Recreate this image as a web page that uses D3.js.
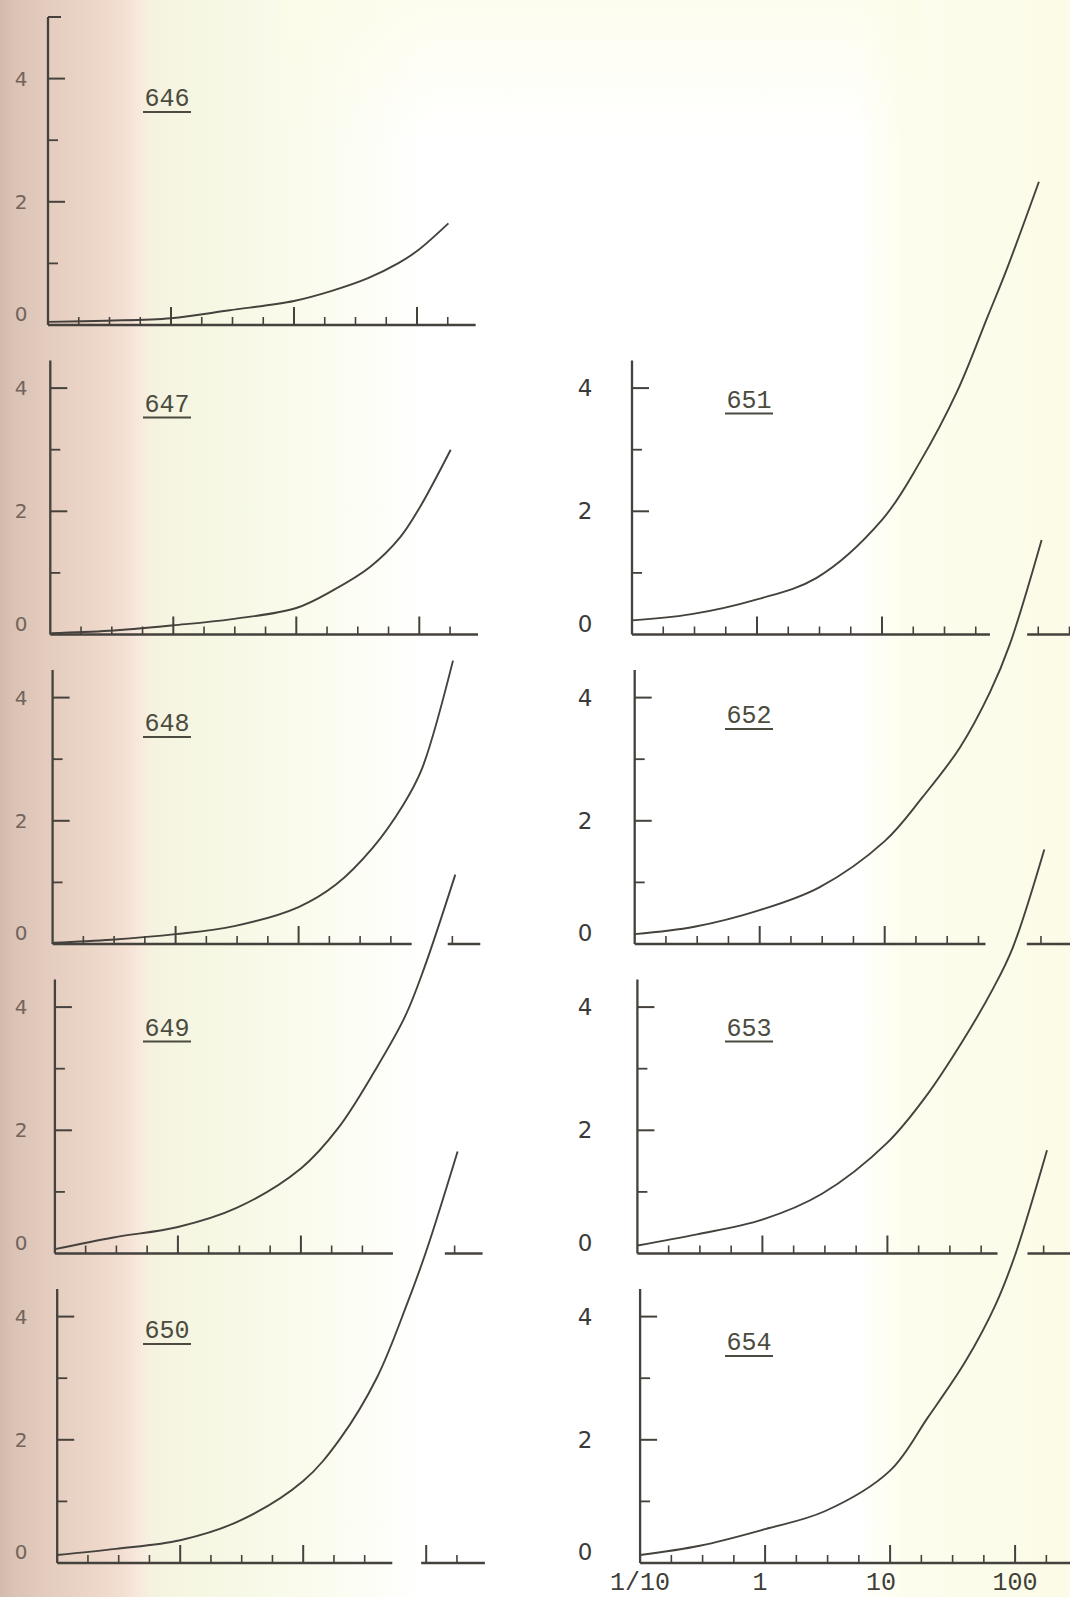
<!DOCTYPE html>
<html>
<head>
<meta charset="utf-8">
<script src="https://cdn.jsdelivr.net/npm/d3@7"></script>
<style>
  html, body { margin: 0; padding: 0; background: #ffffff; }
  svg { display: block; }
</style>
</head>
<body>
<script>
// Dose grid shared by every panel (log scale from 1/10 upwards)
const doses = [0.1, 0.3, 1, 3, 10, 20, 40, 70, 100, 180];

const panelIds = ["646", "647", "648", "649", "650", "651", "652", "653", "654"];

// Response read at each dose of the grid
const resp646 = [0.05, 0.07, 0.11, 0.24, 0.39, 0.55, 0.76, 1.00, 1.20, 1.65];
const resp647 = [0.02, 0.06, 0.15, 0.25, 0.43, 0.72, 1.10, 1.58, 2.05, 3.00];
const resp648 = [0.02, 0.07, 0.16, 0.29, 0.60, 0.96, 1.56, 2.24, 2.83, 4.60];
const resp649 = [0.07, 0.26, 0.43, 0.74, 1.38, 2.03, 2.97, 3.84, 4.62, 6.15];
const resp650 = [0.13, 0.23, 0.37, 0.68, 1.33, 2.02, 3.02, 4.21, 5.06, 6.68];
const resp651 = [0.23, 0.33, 0.57, 0.92, 1.86, 2.79, 3.95, 5.16, 5.94, 7.35];
const resp652 = [0.16, 0.28, 0.55, 0.92, 1.67, 2.38, 3.19, 4.10, 4.86, 6.56];
const resp653 = [0.13, 0.31, 0.55, 0.97, 1.80, 2.53, 3.45, 4.30, 4.95, 6.56];
const resp654 = [0.13, 0.28, 0.55, 0.84, 1.50, 2.36, 3.27, 4.20, 5.00, 6.70];
const responses = [resp646, resp647, resp648, resp649, resp650, resp651, resp652, resp653, resp654];

// Where each panel's dose axis is interrupted (dose units); null = unbroken
const axisBreaks = [null, null, [83, 163], [56, 148], [53, 91], [73, 145], [64, 137], [76, 132], null];

// Axis tick values
const yMajorTicks = [2, 4];
const yMinorTicks = [1, 3];
const yLabelValues = [0, 2, 4];
const xMajorTicks = [1, 10, 100];
const xLabelDoses = [0.1, 1, 10, 100];
const xLabelText = ["1/10", "1", "10", "100"];

// ---------------------------------------------------------------- layout
const W = 1070, H = 1597;
const ink = "#45413c";
const unitPx = 61.6;           // pixels per response unit
const rowStep = 309.5;          // vertical distance between panel baselines
const panelColumn = [0, 0, 0, 0, 0, 1, 1, 1, 1];
const panelRow    = [0, 1, 2, 3, 4, 1, 2, 3, 4];
const labelRise   = [219, 223, 213, 218, 225, 227, 221, 218, 213]; // panel-number height above the baseline
const xLabelShift = [0, -5, -9, 0];

const svg = d3.select("body").append("svg")
  .attr("width", W).attr("height", H)
  .attr("viewBox", `0 0 ${W} ${H}`);

// paper tint: warm band on the left, pale yellow on the right
const defs = svg.append("defs");
const paper = defs.append("linearGradient").attr("id", "paper")
  .attr("x1", "0").attr("x2", "1").attr("y1", "0").attr("y2", "0");
[
  [0.000, "#d2bbad"], [0.015, "#dbc4b6"], [0.050, "#e5cec0"], [0.090, "#edd7c9"],
  [0.115, "#f3dfd2"], [0.130, "#f8e9de"], [0.142, "#f5f3df"], [0.200, "#f6f8e4"],
  [0.280, "#fafbec"], [0.400, "#ffffff"], [0.800, "#ffffff"], [0.845, "#fdfdee"],
  [1.000, "#fbfbe7"]
].forEach(([o, c]) => paper.append("stop").attr("offset", o).attr("stop-color", c));
const topTint = defs.append("linearGradient").attr("id", "topTint")
  .attr("x1", "0").attr("x2", "0").attr("y1", "0").attr("y2", "1");
topTint.append("stop").attr("offset", 0).attr("stop-color", "#fcfce8").attr("stop-opacity", 0.7);
topTint.append("stop").attr("offset", 1).attr("stop-color", "#fcfce8").attr("stop-opacity", 0);

svg.append("rect").attr("width", W).attr("height", H).attr("fill", "url(#paper)");
svg.append("rect").attr("x", 280).attr("y", 0).attr("width", 640).attr("height", 140)
  .attr("fill", "url(#topTint)");

const root = svg.append("g");

panelIds.forEach((id, i) => {
  const col = panelColumn[i], row = panelRow[i];
  const baseY = 325 + row * rowStep;
  const ox = col === 0 ? 48 + row * 2.3 : 632 + (row - 1) * 2.7;
  const decade = col === 0 ? 123 : 125;
  const yTop = i === 0 ? 5.0 : 4.45;
  const doseEnd = col === 0 ? 300 : 420;

  const x = d3.scaleLog().domain([0.1, 100]).range([ox, ox + 3 * decade]);
  const y = d3.scaleLinear().domain([0, 1]).range([baseY, baseY - unitPx]);

  const g = root.append("g").attr("class", "panel p" + id);
  const brk = axisBreaks[i];
  const inBreak = d => brk && d > brk[0] && d < brk[1];

  // vertical axis
  g.append("line")
    .attr("x1", ox).attr("x2", ox)
    .attr("y1", y(0)).attr("y2", y(yTop))
    .attr("stroke", ink).attr("stroke-width", 2.3);
  if (i === 0) {
    g.append("line")
      .attr("x1", ox).attr("x2", ox + 13)
      .attr("y1", y(yTop)).attr("y2", y(yTop))
      .attr("stroke", ink).attr("stroke-width", 2);
  }
  yMajorTicks.forEach(v => g.append("line")
    .attr("x1", ox).attr("x2", ox + 17).attr("y1", y(v)).attr("y2", y(v))
    .attr("stroke", ink).attr("stroke-width", 2));
  yMinorTicks.forEach(v => g.append("line")
    .attr("x1", ox).attr("x2", ox + 10).attr("y1", y(v)).attr("y2", y(v))
    .attr("stroke", ink).attr("stroke-width", 1.8));

  // vertical axis numbers
  const labX = col === 0 ? 21 : 585;
  yLabelValues.forEach(v => g.append("text")
    .attr("x", labX)
    .attr("y", v === 0 ? y(v) - 11 : y(v))
    .attr("text-anchor", "middle")
    .attr("dominant-baseline", "central")
    .attr("font-family", "'DejaVu Sans', sans-serif")
    .attr("font-size", col === 0 ? 20 : 23)
    .attr("fill", col === 0 ? "#73635a" : "#3a3a38")
    .text(String(v)));

  // dose axis line, interrupted where noted
  const segs = brk ? [[0.1, brk[0]], [brk[1], doseEnd]] : [[0.1, doseEnd]];
  segs.forEach(([a, b]) => g.append("line")
    .attr("x1", x(a)).attr("x2", x(b))
    .attr("y1", y(0)).attr("y2", y(0))
    .attr("stroke", ink).attr("stroke-width", 2.3));

  // quarter-decade ticks, longer at each power of ten
  for (let k = 1; ; k++) {
    const d = 0.1 * Math.pow(10, k / 4);
    if (d >= doseEnd * 0.97) break;
    if (inBreak(d)) continue;
    const major = xMajorTicks.some(m => Math.abs(m - d) / m < 1e-6);
    g.append("line")
      .attr("x1", x(d)).attr("x2", x(d))
      .attr("y1", y(0)).attr("y2", y(0) - (major ? 18 : 8))
      .attr("stroke", ink).attr("stroke-width", major ? 2 : 1.6);
  }

  // panel number, underlined
  const cx = col === 0 ? 167 : 749;
  const by = baseY - labelRise[i];
  g.append("text")
    .attr("x", cx).attr("y", by)
    .attr("text-anchor", "middle")
    .attr("font-family", "'Liberation Mono', monospace")
    .attr("font-size", 25)
    .attr("fill", "#4b4b40")
    .text(id);
  g.append("line")
    .attr("x1", cx - 24).attr("x2", cx + 24)
    .attr("y1", by + 6).attr("y2", by + 6)
    .attr("stroke", "#4b4b40").attr("stroke-width", 2);

  // response curve (left unclipped: it rises past the panel top)
  const pts = doses.map((d, j) => ({ d, v: responses[i][j] }));
  g.append("path")
    .datum(pts)
    .attr("fill", "none")
    .attr("stroke", ink)
    .attr("stroke-width", 1.9)
    .attr("stroke-linejoin", "round")
    .attr("d", d3.line().x(p => x(p.d)).y(p => y(p.v)).curve(d3.curveCatmullRom.alpha(0.5)));

  // dose labels under the last panel
  if (id === "654") {
    xLabelDoses.forEach((d, j) => g.append("text")
      .attr("x", x(d) + xLabelShift[j]).attr("y", baseY + 27)
      .attr("text-anchor", "middle")
      .attr("font-family", "'Liberation Mono', monospace")
      .attr("font-size", 25)
      .attr("fill", "#3f3f38")
      .text(xLabelText[j]));
  }
});
</script>
</body>
</html>
